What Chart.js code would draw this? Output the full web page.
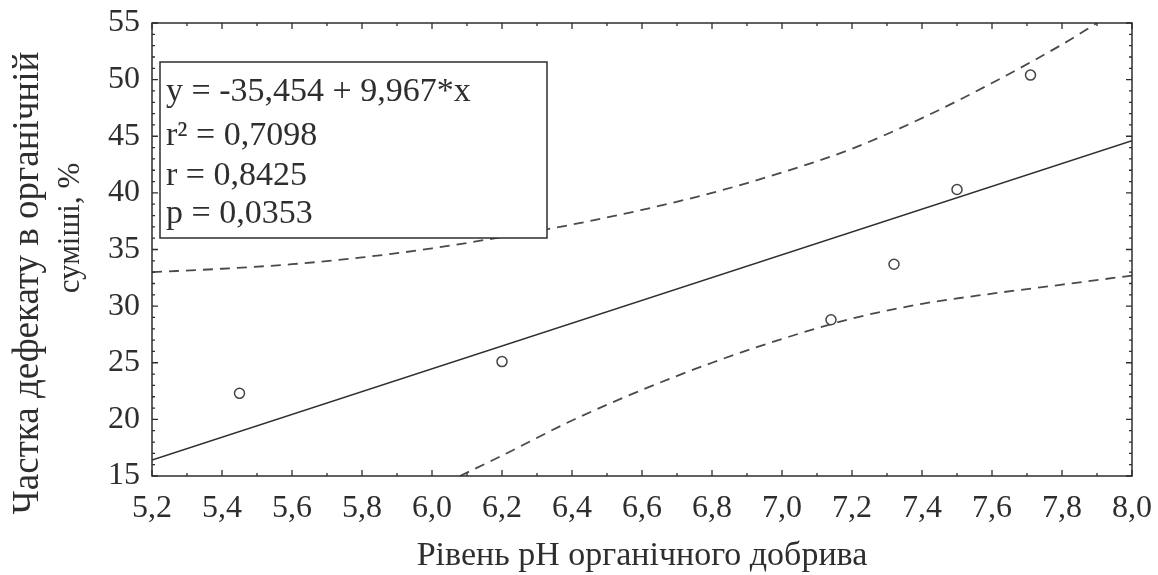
<!DOCTYPE html>
<html>
<head>
<meta charset="utf-8">
<script src="https://cdn.jsdelivr.net/npm/chart.js@4.4.1/dist/chart.umd.min.js"></script>
<style>
  html, body { margin: 0; padding: 0; background: #fff; }
  #wrap { width: 1158px; height: 575px; position: relative; }
</style>
</head>
<body>
<div id="wrap"><canvas id="chart"></canvas></div>
<script>
// ── Daten ────────────────────────────────────────────────────────────────────

const ptX = [5.45, 6.20, 7.14, 7.32, 7.50, 7.71];
const ptY = [22.3, 25.1, 28.8, 33.7, 40.3, 50.4];

// Regressionsgerade (Endpunkte)
const fitX = [5.2, 8.0];
const fitY = [16.4, 44.6];

// Konfidenzband oben / unten
const upX = [5.2, 5.4, 5.6, 5.8, 6.0, 6.2, 6.4, 6.6, 6.8, 7.0, 7.2, 7.4, 7.6, 7.8, 7.9];
const upY = [33.0, 33.3, 33.7, 34.3, 35.1, 36.1, 37.2, 38.5, 40.0, 41.8, 43.9, 46.6, 49.7, 53.1, 55.0];
const loX = [6.08, 6.2, 6.4, 6.6, 6.8, 7.0, 7.2, 7.4, 7.6, 7.8, 8.0];
const loY = [15.0, 16.8, 19.9, 22.6, 25.0, 27.1, 28.9, 30.2, 31.1, 31.9, 32.7];

const xTicks = [5.2, 5.4, 5.6, 5.8, 6.0, 6.2, 6.4, 6.6, 6.8, 7.0, 7.2, 7.4, 7.6, 7.8, 8.0];
const yTicks = [15, 20, 25, 30, 35, 40, 45, 50, 55];

const statLines = ['y = -35,454 + 9,967*x', 'r² = 0,7098', 'r = 0,8425', 'p = 0,0353'];
const xTitle = 'Рівень pH органічного добрива';
const yTitle = ['Частка дефекату в органічній', 'суміші, %'];

// ── Stil ─────────────────────────────────────────────────────────────────────

const INK = '#2e2e2e';
const DASH = '#4a4a4a';
const FONT = '"Liberation Serif", "DejaVu Serif", serif';

function pts(xs, ys) {
  return xs.map((v, i) => ({ x: v, y: ys[i] }));
}

// Rahmen, nach innen zeigende Ticks, Statistik-Box, Achsentitel
const decor = {
  id: 'decor',
  afterDatasetsDraw(chart) {
    const { ctx, chartArea: a, scales: { x, y } } = chart;
    ctx.save();

    // Statistik-Box (ueberdeckt das Band)
    const bx = 160, by = 62, bw = 387, bh = 176;
    ctx.fillStyle = '#fff';
    ctx.fillRect(bx, by, bw, bh);
    ctx.strokeStyle = INK;
    ctx.lineWidth = 1.5;
    ctx.strokeRect(bx, by, bw, bh);
    ctx.fillStyle = INK;
    ctx.font = '34px ' + FONT;
    ctx.textBaseline = 'middle';
    ctx.textAlign = 'left';
    const rowY = [92, 136, 176, 214];
    statLines.forEach((t, i) => ctx.fillText(t, bx + 6, rowY[i]));

    // Rahmen
    ctx.strokeRect(a.left, a.top, a.right - a.left, a.bottom - a.top);

    // Ticks (nach innen, auf allen vier Seiten)
    ctx.lineWidth = 1.3;
    ctx.beginPath();
    const major = 6, minor = 3;
    xTicks.forEach((v, i) => {
      const px = x.getPixelForValue(v);
      ctx.moveTo(px, a.bottom); ctx.lineTo(px, a.bottom - major);
      ctx.moveTo(px, a.top); ctx.lineTo(px, a.top + major);
      if (i < xTicks.length - 1) {
        const mx = x.getPixelForValue((v + xTicks[i + 1]) / 2);
        ctx.moveTo(mx, a.bottom); ctx.lineTo(mx, a.bottom - minor);
        ctx.moveTo(mx, a.top); ctx.lineTo(mx, a.top + minor);
      }
    });
    yTicks.forEach((v, i) => {
      const py = y.getPixelForValue(v);
      ctx.moveTo(a.left, py); ctx.lineTo(a.left + major, py);
      ctx.moveTo(a.right, py); ctx.lineTo(a.right - major, py);
      if (i < yTicks.length - 1) {
        for (let k = 1; k < 5; k++) {
          const my = y.getPixelForValue(v + k);
          ctx.moveTo(a.left, my); ctx.lineTo(a.left + minor, my);
          ctx.moveTo(a.right, my); ctx.lineTo(a.right - minor, my);
        }
      }
    });
    ctx.stroke();

    // Achsentitel
    ctx.textAlign = 'center';
    ctx.textBaseline = 'middle';
    ctx.font = '34px ' + FONT;
    ctx.fillText(xTitle, (a.left + a.right) / 2, 556);

    ctx.save();
    ctx.translate(28, 283);
    ctx.rotate(-Math.PI / 2);
    ctx.font = '37px ' + FONT;
    ctx.fillText(yTitle[0], 0, 0);
    ctx.restore();
    ctx.save();
    ctx.translate(71, 228);
    ctx.rotate(-Math.PI / 2);
    ctx.font = '31px ' + FONT;
    ctx.fillText(yTitle[1], 0, 0);
    ctx.restore();

    ctx.restore();
  }
};

new Chart(document.getElementById('chart'), {
  type: 'scatter',
  data: {
    datasets: [
      {
        data: pts(ptX, ptY),
        pointStyle: 'circle',
        pointRadius: 5,
        pointBorderWidth: 1.5,
        pointBackgroundColor: '#fff',
        pointBorderColor: '#444'
      },
      {
        type: 'line',
        data: pts(fitX, fitY),
        borderColor: INK,
        borderWidth: 1.5,
        pointRadius: 0,
        fill: false
      },
      {
        type: 'line',
        data: pts(upX, upY),
        borderColor: DASH,
        borderWidth: 1.8,
        borderDash: [10, 7],
        pointRadius: 0,
        cubicInterpolationMode: 'monotone',
        fill: false
      },
      {
        type: 'line',
        data: pts(loX, loY),
        borderColor: DASH,
        borderWidth: 1.8,
        borderDash: [10, 7],
        pointRadius: 0,
        cubicInterpolationMode: 'monotone',
        fill: false
      }
    ]
  },
  options: {
    responsive: true,
    maintainAspectRatio: false,
    animation: false,
    layout: { padding: { top: 23, right: 26, left: 0, bottom: 0 } },
    plugins: { legend: { display: false }, tooltip: { enabled: false } },
    scales: {
      x: {
        type: 'linear',
        min: 5.2,
        max: 8.0,
        afterBuildTicks: s => { s.ticks = xTicks.map(v => ({ value: v })); },
        afterFit: s => { s.height = 99; s.paddingLeft = 0; s.paddingRight = 0; },
        grid: { display: false, drawTicks: false },
        border: { display: false },
        ticks: {
          autoSkip: false,
          maxRotation: 0,
          padding: 13,
          color: INK,
          font: { family: FONT, size: 32 },
          callback: v => v.toFixed(1).replace('.', ',')
        }
      },
      y: {
        type: 'linear',
        min: 15,
        max: 55,
        afterBuildTicks: s => { s.ticks = yTicks.map(v => ({ value: v })); },
        afterFit: s => { s.width = 152; s.paddingTop = 0; s.paddingBottom = 0; },
        grid: { display: false, drawTicks: false },
        border: { display: false },
        ticks: {
          padding: 12,
          color: INK,
          font: { family: FONT, size: 32 },
          callback: v => String(v)
        }
      }
    }
  },
  plugins: [decor]
});
</script>
</body>
</html>
